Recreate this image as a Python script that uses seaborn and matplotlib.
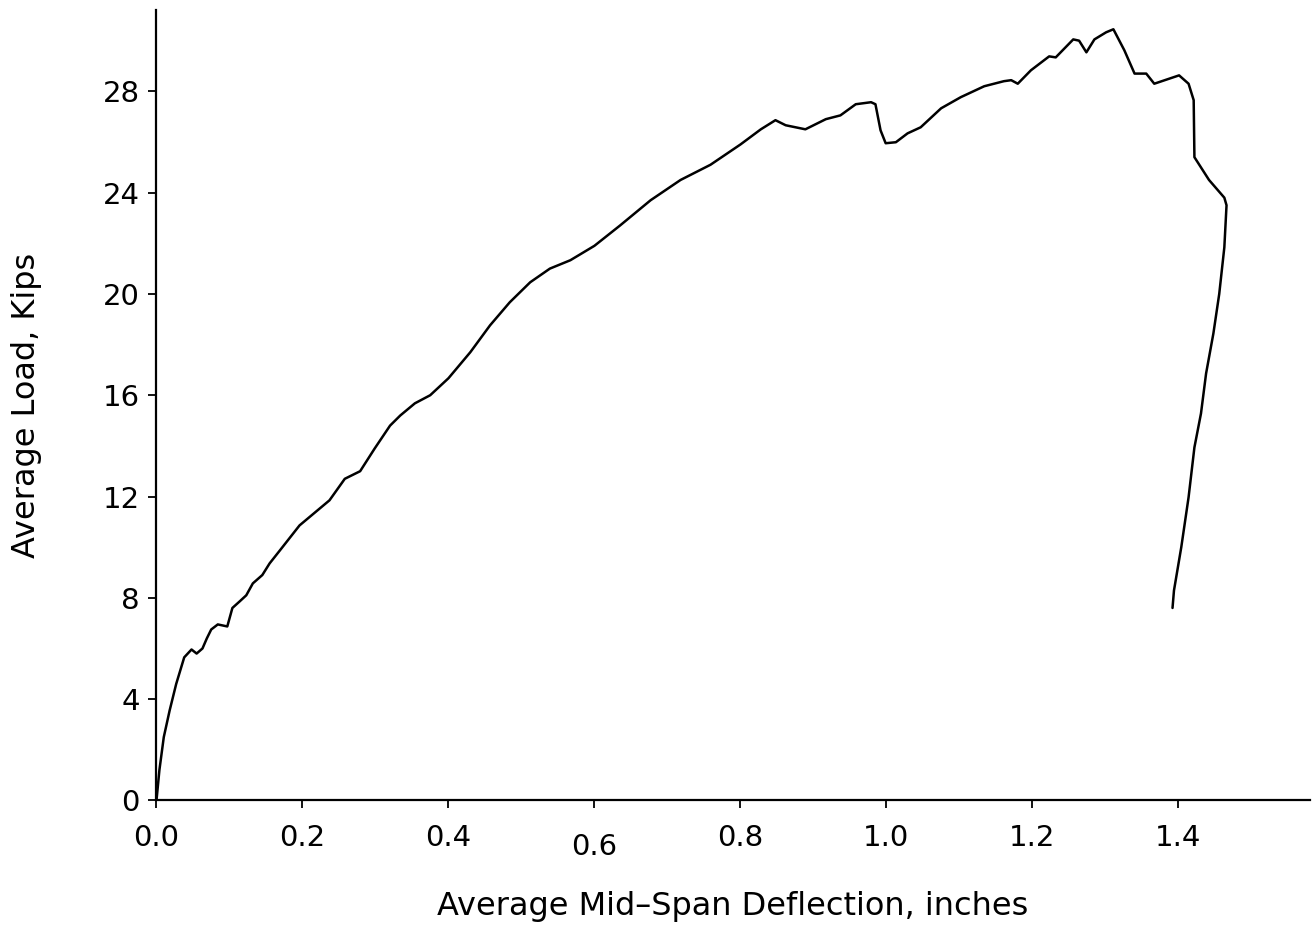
import matplotlib
matplotlib.use("Agg")
import matplotlib.pyplot as plt
import seaborn as sns
import pandas as pd

deflection = [0.0, 0.004, 0.010, 0.018, 0.027, 0.038, 0.048, 0.055, 0.063, 0.069, 0.075, 0.084,
              0.097, 0.104, 0.114, 0.123, 0.132, 0.145, 0.155, 0.169, 0.196, 0.237, 0.258, 0.279,
              0.299, 0.320, 0.334, 0.354, 0.375, 0.400, 0.430, 0.457, 0.484, 0.512, 0.539, 0.567,
              0.600, 0.635, 0.677, 0.718, 0.759, 0.800, 0.828, 0.848, 0.862, 0.889, 0.917, 0.937,
              0.958, 0.979, 0.985, 0.992, 0.999, 1.013, 1.029, 1.047, 1.075, 1.102, 1.134, 1.161,
              1.171, 1.180, 1.198, 1.223, 1.232, 1.256, 1.264, 1.274, 1.285, 1.301, 1.311, 1.326,
              1.340, 1.356, 1.367, 1.401, 1.414, 1.421, 1.422, 1.442, 1.463, 1.466, 1.463, 1.456,
              1.448, 1.438, 1.431, 1.422, 1.414, 1.404, 1.394, 1.392]
load = [0.0, 1.2, 2.5, 3.55, 4.6, 5.65, 5.96, 5.8, 6.0, 6.4, 6.75, 6.95,
        6.87, 7.6, 7.86, 8.1, 8.57, 8.9, 9.36, 9.87, 10.86, 11.85, 12.7, 13.0,
        13.9, 14.8, 15.2, 15.68, 16.0, 16.67, 17.7, 18.76, 19.67, 20.46, 21.0, 21.33,
        21.9, 22.7, 23.7, 24.5, 25.1, 25.9, 26.5, 26.86, 26.66, 26.5, 26.9, 27.05,
        27.49, 27.57, 27.49, 26.46, 25.95, 25.99, 26.34, 26.58, 27.33, 27.77, 28.2, 28.4,
        28.44, 28.3, 28.83, 29.38, 29.34, 30.05, 30.0, 29.54, 30.05, 30.33, 30.45, 29.62,
        28.7, 28.7, 28.3, 28.63, 28.3, 27.65, 25.4, 24.5, 23.8, 23.5, 21.84, 20.0,
        18.44, 16.86, 15.28, 13.94, 11.97, 10.0, 8.29, 7.6]

x_ticks = [0.0, 0.2, 0.4, 0.6, 0.8, 1.0, 1.2, 1.4]
x_tick_labels = ["0.0", "0.2", "0.4", "0.6", "0.8", "1.0", "1.2", "1.4"]
y_ticks = [0, 4, 8, 12, 16, 20, 24, 28]
y_tick_labels = ["0", "4", "8", "12", "16", "20", "24", "28"]

df = pd.DataFrame({"deflection": deflection, "load": load})

sns.set_style("ticks")
plt.rcParams['font.family'] = ['DejaVu Sans']

fig = plt.figure(figsize=(13.15, 9.34), dpi=100)
ax = fig.add_axes([0.119, 0.143, 0.877, 0.846])

sns.lineplot(data=df, x="deflection", y="load", sort=False, estimator=None,
             color="black", linewidth=1.8, ax=ax)

ax.set_xlim(0, 1.58)
ax.set_ylim(0, 31.2)
ax.set_xticks(x_ticks)
ax.set_xticklabels(x_tick_labels, fontsize=21, color="black")
ax.set_yticks(y_ticks)
ax.set_yticklabels(y_tick_labels, fontsize=21, color="black")
ax.tick_params(axis="both", direction="out", length=6, width=1.3, color="black")
ax.tick_params(axis="x", pad=11)
ax.tick_params(axis="y", pad=6)
ax.xaxis.get_major_ticks()[3].label1.set_y(-0.011)

for side in ["top", "right"]:
    ax.spines[side].set_visible(False)
for side in ["left", "bottom"]:
    ax.spines[side].set_linewidth(1.6)
    ax.spines[side].set_color("black")

ax.set_xlabel("Average Mid\u2013Span Deflection, inches", fontsize=23, labelpad=22, color="black")
ax.set_ylabel("Average Load, Kips", fontsize=23, labelpad=44, color="black")

fig.savefig("out.png", dpi=100)
